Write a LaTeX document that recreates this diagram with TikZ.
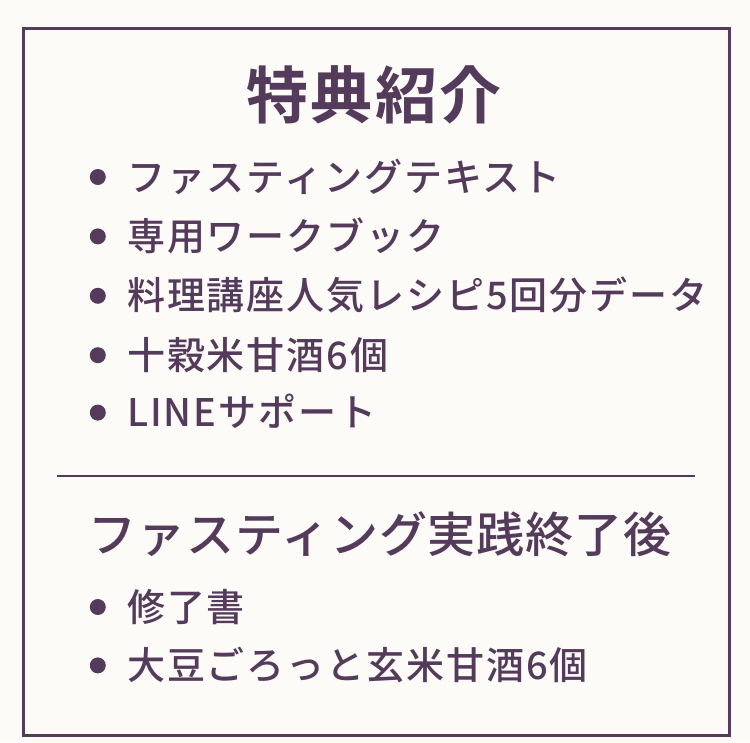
\documentclass[tikz,border=0pt]{standalone}
\usepackage{fontspec}
\newfontfamily\jpfont[LetterSpace=5,UprightFont=* Medium]{Noto Sans CJK JP}
\newfontfamily\jpsub[LetterSpace=2,UprightFont=* Medium]{Noto Sans CJK JP}
\newfontfamily\jpbold[LetterSpace=4,UprightFont=* Bold]{Noto Sans CJK JP}
\usetikzlibrary{positioning}

\definecolor{plum}{HTML}{553B5B}
\definecolor{paper}{HTML}{FCFBF7}

\tikzset{
  entry/.style={font=\jpfont\fontsize{38pt}{38pt}\selectfont, text=plum,
    inner sep=0pt, text height=33pt, text depth=5pt, anchor=west},
  heading/.style={font=\jpbold\fontsize{62pt}{62pt}\selectfont, text=plum, inner sep=0pt},
  subheading/.style={entry, font=\jpsub\fontsize{48pt}{48pt}\selectfont,
    text height=42pt, text depth=6pt},
  dot/.style={circle, fill=plum, minimum size=16pt, inner sep=0pt},
}

\begin{document}
\begin{tikzpicture}[x=1pt, y=-1pt]
  % Page and frame
  \fill[paper] (0,0) rectangle (750,742);
  \draw[plum, line width=3pt] (23.5,28.5) rectangle (729.5,735.5);

  % Title
  \node[heading] (title) at (374,95) {特典紹介};

  % Bonus items
  \node[entry] (text) at (127,177) {ファスティングテキスト};
  \node[entry, below=21pt of text.south west, anchor=north west] (book) {専用ワークブック};
  \node[entry, below=21pt of book.south west, anchor=north west] (recipe) {料理講座人気レシピ5回分データ};
  \node[entry, below=21pt of recipe.south west, anchor=north west] (sake) {十穀米甘酒6個};
  \node[entry, below=19pt of sake.south west, anchor=north west] (line) {LINEサポート};

  % Separator
  \coordinate (rule-l) at (57,476);
  \coordinate (rule-r) at (695,476);
  \draw[plum, line width=2pt] (rule-l) -- (rule-r);

  % After the fasting
  \node[subheading] (after) at (88,534) {ファスティング実践終了後};
  \node[entry] (cert) at (127,607) {修了書};
  \node[entry, below=20pt of cert.south west, anchor=north west] (brown) {大豆ごろっと玄米甘酒6個};

  % Bullets
  \foreach \n in {text,book,recipe,sake,line,cert,brown}
    \node[dot, left=21pt of \n] (\n-dot) {};
\end{tikzpicture}
\end{document}
